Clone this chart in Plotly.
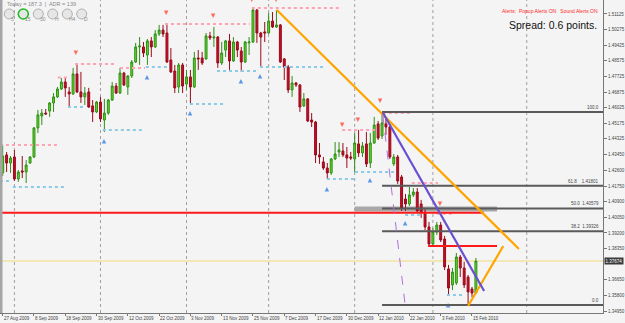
import plotly.graph_objects as go

# ---------------- data ----------------
date_labels = ["27 Aug 2009", "8 Sep 2009", "18 Sep 2009", "30 Sep 2009", "12 Oct 2009",
               "22 Oct 2009", "3 Nov 2009", "13 Nov 2009", "25 Nov 2009", "7 Dec 2009",
               "17 Dec 2009", "30 Dec 2009", "12 Jan 2010", "22 Jan 2010", "3 Feb 2010",
               "15 Feb 2010"]
label_bars = [0, 8, 16, 24, 32, 40, 48, 56, 64, 72, 80, 88, 96, 104, 112, 120]
month_bars = [3, 25, 47, 68, 90, 110, 134]

opens = [1.4247, 1.4345, 1.4301, 1.4334, 1.4214, 1.4258, 1.4252, 1.4301, 1.4334, 1.4492,
         1.4557, 1.4573, 1.4584, 1.4628, 1.4661, 1.4704, 1.4742, 1.4688, 1.4677, 1.4786,
         1.4688, 1.4661, 1.4688, 1.4612, 1.4579, 1.4633, 1.4535, 1.4573, 1.4644, 1.4720,
         1.4682, 1.4791, 1.4715, 1.4775, 1.4851, 1.4933, 1.4933, 1.4889, 1.4966, 1.4933,
         1.5004, 1.5025, 1.5009, 1.4862, 1.4802, 1.4715, 1.4835, 1.4731, 1.4770, 1.4715,
         1.4873, 1.4873, 1.4868, 1.4993, 1.4982, 1.4987, 1.4846, 1.4916, 1.4966, 1.4857,
         1.4960, 1.4911, 1.4851, 1.4955, 1.4960, 1.5134, 1.5009, 1.5015, 1.5009, 1.5074,
         1.5042, 1.5053, 1.4868, 1.4824, 1.4699, 1.4737, 1.4726, 1.4612, 1.4650, 1.4535,
         1.4524, 1.4345, 1.4307, 1.4274, 1.4247, 1.4323, 1.4361, 1.4366, 1.4345, 1.4334,
         1.4323, 1.4405, 1.4356, 1.4405, 1.4301, 1.4410, 1.4514, 1.4448, 1.4514, 1.4497,
         1.4296, 1.4334, 1.4225, 1.4105, 1.4078, 1.4127, 1.4143, 1.4078, 1.4034, 1.3953,
         1.3860, 1.3925, 1.3963, 1.3887, 1.3724, 1.3637, 1.3648, 1.3789, 1.3729, 1.3680,
         1.3615, 1.3593]
highs = [1.4399, 1.4361, 1.4339, 1.4372, 1.4263, 1.4339, 1.4317, 1.4339, 1.4497, 1.4590,
         1.4595, 1.4595, 1.4633, 1.4682, 1.4715, 1.4764, 1.4764, 1.4715, 1.4819, 1.4835,
         1.4797, 1.4715, 1.4710, 1.4644, 1.4639, 1.4661, 1.4650, 1.4650, 1.4742, 1.4737,
         1.4819, 1.4797, 1.4780, 1.4862, 1.4955, 1.4987, 1.4960, 1.4976, 1.4987, 1.5025,
         1.5053, 1.5053, 1.5058, 1.4927, 1.4835, 1.4846, 1.4846, 1.4808, 1.4808, 1.4906,
         1.4916, 1.4906, 1.5009, 1.5015, 1.5042, 1.4993, 1.4960, 1.4971, 1.5004, 1.4987,
         1.4966, 1.4933, 1.4966, 1.4987, 1.5140, 1.5140, 1.5015, 1.5069, 1.5118, 1.5123,
         1.5134, 1.5058, 1.4873, 1.4835, 1.4775, 1.4742, 1.4731, 1.4682, 1.4655, 1.4573,
         1.4530, 1.4410, 1.4334, 1.4301, 1.4328, 1.4415, 1.4415, 1.4410, 1.4388, 1.4361,
         1.4464, 1.4481, 1.4415, 1.4470, 1.4464, 1.4552, 1.4530, 1.4579, 1.4552, 1.4508,
         1.4350, 1.4345, 1.4236, 1.4132, 1.4170, 1.4165, 1.4165, 1.4100, 1.4051, 1.3980,
         1.3947, 1.3980, 1.3980, 1.3904, 1.3746, 1.3729, 1.3811, 1.3800, 1.3762, 1.3691,
         1.3626, 1.3784]
lows = [1.4230, 1.4252, 1.4247, 1.4203, 1.4198, 1.4219, 1.4192, 1.4296, 1.4328, 1.4464,
        1.4508, 1.4563, 1.4552, 1.4579, 1.4655, 1.4699, 1.4661, 1.4606, 1.4672, 1.4682,
        1.4628, 1.4617, 1.4601, 1.4524, 1.4573, 1.4524, 1.4470, 1.4563, 1.4639, 1.4677,
        1.4677, 1.4720, 1.4672, 1.4764, 1.4846, 1.4835, 1.4878, 1.4835, 1.4878, 1.4927,
        1.4993, 1.4987, 1.4846, 1.4791, 1.4682, 1.4682, 1.4682, 1.4699, 1.4622, 1.4710,
        1.4808, 1.4835, 1.4862, 1.4971, 1.4933, 1.4819, 1.4835, 1.4878, 1.4808, 1.4851,
        1.4878, 1.4797, 1.4846, 1.4889, 1.4955, 1.4955, 1.4824, 1.4960, 1.5004, 1.5036,
        1.5036, 1.4846, 1.4753, 1.4682, 1.4661, 1.4715, 1.4579, 1.4606, 1.4524, 1.4497,
        1.4301, 1.4296, 1.4263, 1.4214, 1.4236, 1.4317, 1.4334, 1.4334, 1.4274, 1.4317,
        1.4252, 1.4334, 1.4334, 1.4279, 1.4274, 1.4405, 1.4426, 1.4432, 1.4454, 1.4323,
        1.4285, 1.4187, 1.4040, 1.4040, 1.4067, 1.4116, 1.4029, 1.4002, 1.3936, 1.3844,
        1.3854, 1.3909, 1.3871, 1.3718, 1.3582, 1.3609, 1.3637, 1.3680, 1.3620, 1.3528,
        1.3571, 1.3588]
closes = [1.4339, 1.4301, 1.4328, 1.4214, 1.4252, 1.4252, 1.4290, 1.4334, 1.4492, 1.4563,
          1.4573, 1.4568, 1.4628, 1.4661, 1.4704, 1.4742, 1.4710, 1.4677, 1.4786, 1.4688,
          1.4661, 1.4682, 1.4606, 1.4579, 1.4633, 1.4541, 1.4573, 1.4644, 1.4720, 1.4682,
          1.4791, 1.4726, 1.4775, 1.4851, 1.4933, 1.4938, 1.4900, 1.4966, 1.4933, 1.5004,
          1.5025, 1.5004, 1.4851, 1.4797, 1.4710, 1.4835, 1.4720, 1.4770, 1.4715, 1.4873,
          1.4868, 1.4846, 1.4993, 1.4982, 1.4987, 1.4846, 1.4900, 1.4966, 1.4857, 1.4960,
          1.4916, 1.4851, 1.4960, 1.4960, 1.5134, 1.5009, 1.4987, 1.5009, 1.5074, 1.5042,
          1.5053, 1.4851, 1.4824, 1.4699, 1.4737, 1.4726, 1.4606, 1.4650, 1.4530, 1.4524,
          1.4345, 1.4334, 1.4274, 1.4247, 1.4323, 1.4350, 1.4372, 1.4345, 1.4328, 1.4328,
          1.4410, 1.4356, 1.4394, 1.4296, 1.4410, 1.4508, 1.4437, 1.4519, 1.4497, 1.4334,
          1.4334, 1.4203, 1.4056, 1.4078, 1.4127, 1.4143, 1.4040, 1.4034, 1.3953, 1.3860,
          1.3925, 1.3963, 1.3882, 1.3735, 1.3620, 1.3707, 1.3789, 1.3729, 1.3637, 1.3599,
          1.3593, 1.3767]

# the 1.37500 label is hidden behind the current-price box in the reference
price_ticks = [1.51125, 1.50275, 1.49425, 1.48575, 1.47725, 1.46875, 1.46025, 1.45175,
               1.44325, 1.43450, 1.42600, 1.41750, 1.40900, 1.40050, 1.39200, 1.38350,
               1.36650, 1.35800, 1.34950]
price_tick_text = ["1.51125", "1.50275", "1.49425", "1.48575", "1.47725", "1.46875",
                   "1.46025", "1.45175", "1.44325", "1.43450", "1.42600", "1.41750",
                   "1.40900", "1.40050", "1.39200", "1.38350", "1.36650",
                   "1.35800", "1.34950"]

# resistance (pink) / support (blue) dotted segments: start bar, end bar, price
res_start = [-0.7, 14.1, 18.5, 30.0, 41.5, 63.7, 86.8, 97.2, 104.6, 111.0, 116.4]
res_end = [13.9, 17.2, 29.2, 36.4, 63.2, 86.2, 95.2, 104.1, 111.3, 115.1, 120.2]
res_price = [1.4399, 1.4767, 1.4840, 1.4819, 1.5058, 1.5145, 1.4481, 1.4573, 1.4192, 1.4024, 1.3849]
sup_start = [-0.7, 2.6, 16.7, 25.6, 36.6, 47.9, 54.8, 65.8, 82.9, 90.1, 102.9, 113.6]
sup_end = [1.9, 16.2, 21.0, 35.9, 42.0, 56.8, 65.0, 81.9, 90.1, 100.8, 107.5, 118.2]
sup_price = [1.4203, 1.4170, 1.4606, 1.4481, 1.4824, 1.4622, 1.4802, 1.4824, 1.4214, 1.4252, 1.4018, 1.3582]

# signal arrows
dn_arrow_bar = [18.7, 41.8, 53.8, 63.7, 69.9, 86.8, 90.8, 96.5, 111.8]
dn_arrow_price = [1.4889, 1.5107, 1.5091, 1.5178, 1.5178, 1.4497, 1.4524, 1.4628, 1.4067]
up_arrow_bar = [25.9, 36.9, 47.9, 60.9, 65.8, 82.9, 93.9, 102.9, 113.9]
up_arrow_price = [1.4432, 1.4780, 1.4584, 1.4759, 1.4786, 1.4170, 1.4219, 1.3985, 1.3539]

# horizontal lines
red_line_1 = 1.4030
red_line_1_end = 123.0
red_line_2 = 1.3849
red_line_2_span = [108.8, 126.4]
gray_band = [1.4037, 1.4064]
gray_band_span = [90.0, 126.4]
current_price = 1.3767

# fibonacci
fib_hi, fib_lo = 1.4579, 1.3528
fib_start = 97.0
fib_ratios = [1.0, 0.618, 0.5, 0.382, 0.0]
fib_texts = ["100.0", "61.8    1.41801", "50.0  1.40579", "38.2  1.39326", "0.0"]

# trend lines (bar, price)
orange_long = [(70.1, 1.5134), (132.0, 1.3833)]
orange_short = [(119.0, 1.3522), (128.0, 1.3849)]
blue_line = [(97.2, 1.4576), (123.1, 1.3604)]
purple_dash = [(97.2, 1.4563), (102.9, 1.3528)]

# ---------------- figure ----------------
X_RANGE = [-0.69, 153.5]
Y_RANGE = [1.34841, 1.51887]
W, H = 625, 323
ML, MR, MT, MB = 0, 22, 0, 10
PW, PH = W - ML - MR, H - MT - MB
SMALL = "Liberation Sans"


def px(x):
    return x / PW


def py(y):
    return 1 - y / PH


fig = go.Figure()

shapes = []
shapes.append(dict(type="rect", xref="x", yref="y", x0=gray_band_span[0], x1=gray_band_span[1],
                   y0=gray_band[0], y1=gray_band[1], fillcolor="#a8a8a8", line_width=0, layer="below"))
for b in month_bars:
    shapes.append(dict(type="line", xref="x", yref="paper", x0=b, x1=b, y0=0, y1=1,
                       line=dict(color="#a0a0a0", width=1, dash="dot"), layer="below"))
shapes.append(dict(type="line", xref="x", yref="y", x0=X_RANGE[0], x1=X_RANGE[1],
                   y0=current_price, y1=current_price, line=dict(color="#f3e3a0", width=1.5), layer="below"))
fib_levels = [fib_lo + r * (fib_hi - fib_lo) for r in fib_ratios]
for lv in fib_levels:
    shapes.append(dict(type="line", xref="x", yref="y", x0=fib_start, x1=X_RANGE[1], y0=lv, y1=lv,
                       line=dict(color="#5a5a5a", width=2)))
shapes.append(dict(type="line", xref="x", yref="y", x0=X_RANGE[0], x1=red_line_1_end,
                   y0=red_line_1, y1=red_line_1, line=dict(color="#ff1a1a", width=2.2)))
shapes.append(dict(type="line", xref="x", yref="y", x0=red_line_2_span[0], x1=red_line_2_span[1],
                   y0=red_line_2, y1=red_line_2, line=dict(color="#ff1a1a", width=2.2)))
for seg, col, w, d in [(orange_long, "#ffa500", 2.2, "solid"), (orange_short, "#ffa500", 2.2, "solid"),
                       (blue_line, "#6a50d0", 2.2, "solid"), (purple_dash, "#b070e0", 1, "dash")]:
    shapes.append(dict(type="line", xref="x", yref="y", x0=seg[0][0], y0=seg[0][1],
                       x1=seg[1][0], y1=seg[1][1], line=dict(color=col, width=w, dash=d)))

shapes.append(dict(type="rect", xref="paper", yref="paper", x0=0, x1=px(2.5), y0=0, y1=1,
                   fillcolor="#a5a5a5", line_width=0))

btn_x = [9.3, 23.3, 38.3, 52.7, 67.3, 81.7]
btn_txt = ["5", "15", "30", "H", "H4", "D"]
annotations = []
for i, (bx, bt) in enumerate(zip(btn_x, btn_txt)):
    ring = "#22bb22" if i == 1 else "#b0b0b0"
    shapes.append(dict(type="circle", xref="paper", yref="paper",
                       x0=px(bx - 5), x1=px(bx + 5), y0=py(19), y1=py(9),
                       fillcolor="#e6e6e6", line=dict(color=ring, width=1.6 if i == 1 else 1)))
    annotations.append(dict(xref="paper", yref="paper", x=px(bx), y=py(14), text=bt,
                            showarrow=False, font=dict(size=5, color="#8a8a8a", family=SMALL)))

fig.add_trace(go.Candlestick(
    x=list(range(len(opens))), open=opens, high=highs, low=lows, close=closes,
    increasing=dict(fillcolor="#5ed820", line=dict(color="#2f8f18", width=1)),
    decreasing=dict(fillcolor="#c40e26", line=dict(color="#9a0a1c", width=1)),
    whiskerwidth=0, showlegend=False, hoverinfo="skip"))


def seg_xy(starts, ends, prices):
    xs, ys = [], []
    for s, e, p in zip(starts, ends, prices):
        xs += [s, e, None]
        ys += [p, p, None]
    return xs, ys


rx, ry = seg_xy(res_start, res_end, res_price)
fig.add_trace(go.Scatter(x=rx, y=ry, mode="lines", line=dict(color="#ffa3b5", width=2, dash="dot"),
                         showlegend=False, hoverinfo="skip"))
sx, sy = seg_xy(sup_start, sup_end, sup_price)
fig.add_trace(go.Scatter(x=sx, y=sy, mode="lines", line=dict(color="#8ccbe8", width=2, dash="dot"),
                         showlegend=False, hoverinfo="skip"))

fig.add_trace(go.Scatter(x=dn_arrow_bar, y=dn_arrow_price, mode="markers",
                         marker=dict(symbol="arrow-down", size=4.5, color="#ff6a5a", line_width=0),
                         showlegend=False, hoverinfo="skip"))
fig.add_trace(go.Scatter(x=up_arrow_bar, y=up_arrow_price, mode="markers",
                         marker=dict(symbol="arrow-up", size=4.5, color="#5a98e8", line_width=0),
                         showlegend=False, hoverinfo="skip"))

for b, t in zip(label_bars, date_labels):
    annotations.append(dict(xref="x", yref="paper", x=b, y=0, xanchor="left", yanchor="top",
                            xshift=-1, yshift=-1, text=t, showarrow=False,
                            font=dict(size=4.5, color="#444", family=SMALL)))
for lv, t in zip(fib_levels, fib_texts):
    annotations.append(dict(xref="paper", yref="y", x=px(601), y=lv, xanchor="right", yanchor="bottom",
                            text=t, showarrow=False,
                            font=dict(size=4.5, color="#444", family=SMALL)))
annotations.append(dict(xref="paper", yref="y", x=1, y=current_price, xanchor="left", yanchor="middle",
                        xshift=1, text="1.37674", showarrow=False, bgcolor="#3a3a3a", borderpad=0.5,
                        font=dict(size=4.5, color="#ffffff", family=SMALL)))
annotations.append(dict(xref="paper", yref="paper", x=px(5), y=py(4), xanchor="left", yanchor="middle",
                        text="Today = 187.3  |  ADR = 139", showarrow=False,
                        font=dict(size=5.5, color="#8a8a8a", family=SMALL)))
annotations.append(dict(xref="paper", yref="paper", x=px(600), y=py(11), xanchor="right", yanchor="middle",
                        text="Alerts:  Popup Alerts ON   Sound Alerts ON", showarrow=False,
                        font=dict(size=5, color="#ff2a2a", family=SMALL)))
annotations.append(dict(xref="paper", yref="paper", x=px(599), y=py(25), xanchor="right", yanchor="middle",
                        text="Spread: 0.6 points.", showarrow=False,
                        font=dict(size=10.5, color="#111111", family="Liberation Sans")))

fig.update_layout(
    width=W, height=H, margin=dict(l=ML, r=MR, t=MT, b=MB),
    paper_bgcolor="#f4f4f4", plot_bgcolor="#f4f4f4",
    shapes=shapes, annotations=annotations, showlegend=False,
    xaxis=dict(range=X_RANGE, showgrid=False, zeroline=False, showticklabels=False,
               tickvals=label_bars, ticks="outside", ticklen=2, tickcolor="#777",
               showline=True, linecolor="#777", linewidth=1, rangeslider=dict(visible=False)),
    yaxis=dict(range=Y_RANGE, side="right", showgrid=False, zeroline=False,
               tickvals=price_ticks, ticktext=price_tick_text, ticks="outside", ticklen=3,
               tickcolor="#777", tickfont=dict(size=4.5, color="#444", family=SMALL),
               showline=True, linecolor="#777", linewidth=1),
)

fig.write_html("out.html")
